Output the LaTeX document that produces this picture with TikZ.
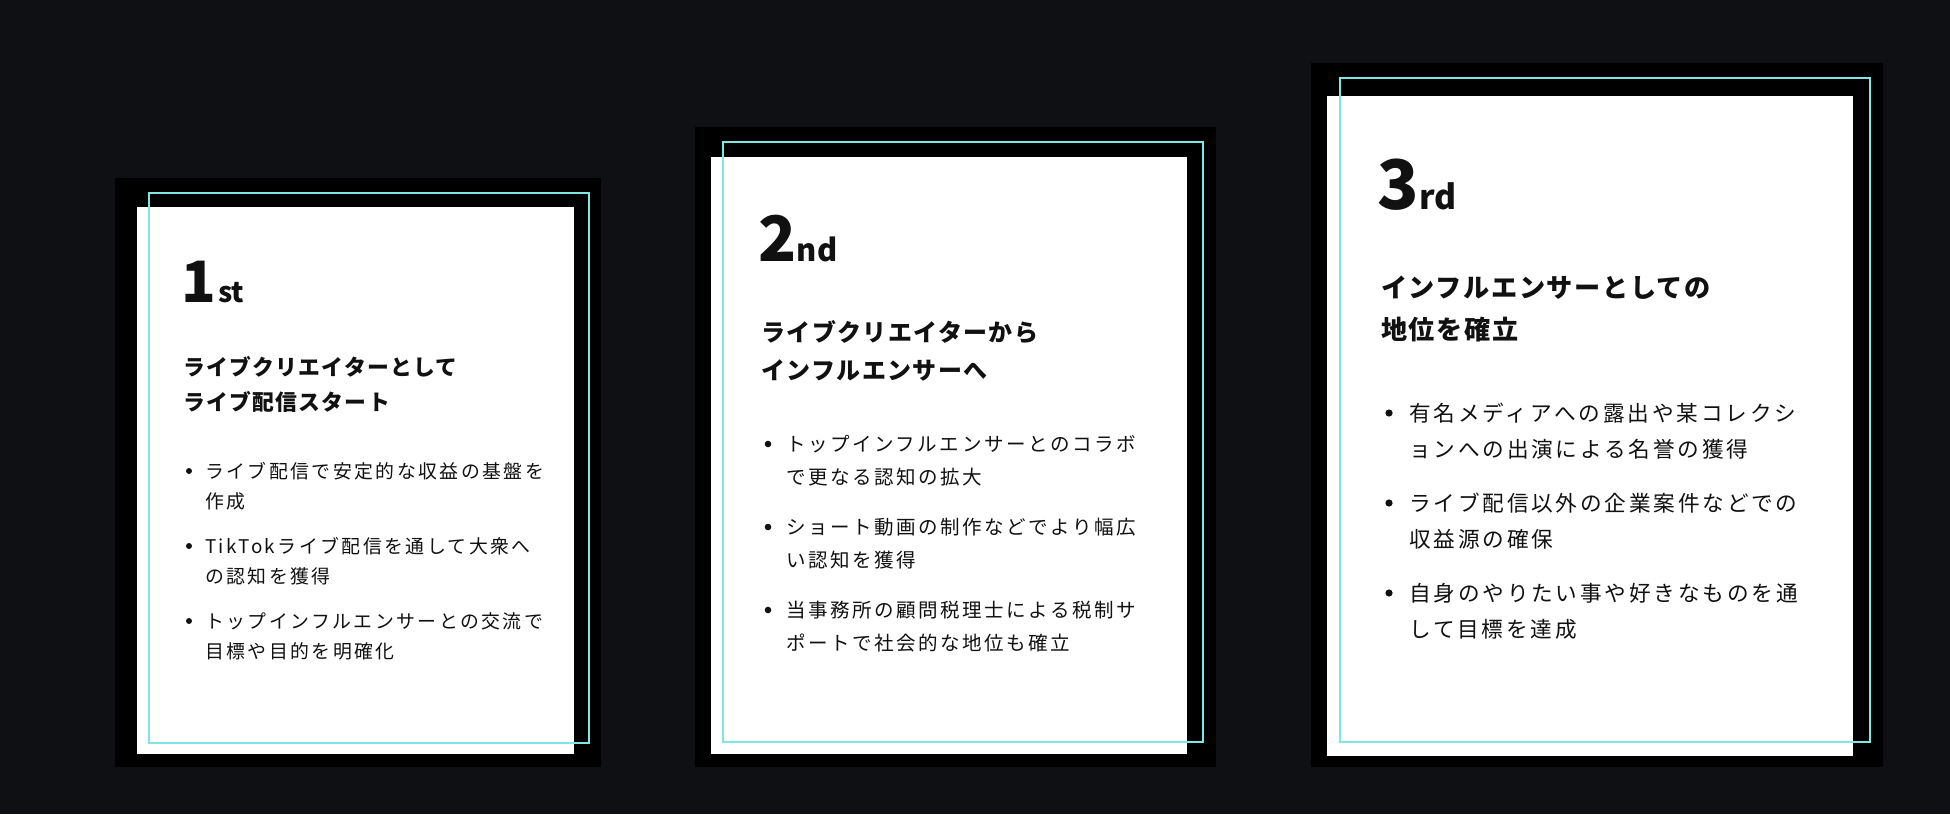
\documentclass[tikz,border=0pt]{standalone}
\usepackage{fontspec}
\setmainfont{Noto Sans CJK JP}
\usetikzlibrary{positioning}

\definecolor{bgdark}{HTML}{0F1013}
\definecolor{aqua}{HTML}{80E6E3}
\definecolor{ink}{HTML}{111111}

\begin{document}
\begin{tikzpicture}[
    x=1pt, y=-1pt,
    every node/.style={text=ink, inner sep=0pt},
    frame/.style={fill=black},
    paper/.style={fill=white},
    outline/.style={draw=aqua, line width=2pt},
    rankno/.style={
        anchor=base west,
        font=\pgfmathsetmacro\fsz{57*#1}\fontsize{\fsz}{\fsz}\selectfont\bfseries
    },
    ranksuf/.style={
        font=\pgfmathsetmacro\fsz{28*#1}\fontsize{\fsz}{\fsz}\selectfont\bfseries
    },
    heading/.style={
        anchor=west,
        align=left,
        font=\pgfmathsetmacro\fsz{21.8*#1}\pgfmathsetmacro\bsz{35*#1}\fontsize{\fsz}{\bsz}\selectfont\bfseries\addfontfeatures{LetterSpace=6}
    },
    % #1 = text size factor, #2 = line pitch factor
    point/.style 2 args={
        anchor=west,
        align=left,
        font=\pgfmathsetmacro\fsz{18.5*#1}\pgfmathsetmacro\bsz{30*#2}\fontsize{\fsz}{\bsz}\selectfont\addfontfeatures{LetterSpace=13}
    },
    bulletdot/.style={circle, fill=ink, minimum size={6pt*#1}}
]

% --- canvas ---
\fill[bgdark] (0,0) rectangle (1950,814);
\useasboundingbox (0,0) rectangle (1950,814);

% --- card 1 ---
\fill[frame] (115,178) rectangle (601,767);
\fill[paper] (137,207) rectangle (574,754);
\draw[outline] (149,193) rectangle (589,743);

\node (no1) [rankno=1] at (181,302) {1};
\node (no1s) [ranksuf=1, right=2pt of no1.base east, anchor=base west] {st};
\node (head1) [heading=1] at (183,384) {ライブクリエイターとして\\ライブ配信スタート};

\node (d11) [bulletdot=1] at (189,471) {};
\node (p11) [point={1.02}{1}] at (205,486) {ライブ配信で安定的な収益の基盤を\\作成};
\node (d12) [bulletdot=1] at (189,546) {};
\node (p12) [point={1.02}{1}] at (205,561) {TikTokライブ配信を通して大衆へ\\の認知を獲得};
\node (d13) [bulletdot=1] at (189,621) {};
\node (p13) [point={1.02}{1}] at (205,636) {トップインフルエンサーとの交流で\\目標や目的を明確化};

% --- card 2 ---
\fill[frame] (695,127) rectangle (1216,767);
\fill[paper] (711,157) rectangle (1187,754);
\draw[outline] (723,142) rectangle (1203,742);

\node (no2) [rankno=1.1] at (758,261) {2};
\node (no2s) [ranksuf=1.1, right=0pt of no2.base east, anchor=base west] {nd};
\node (head2) [heading=1.1] at (761,351) {ライブクリエイターから\\インフルエンサーへ};

\node (d21) [bulletdot=1.1] at (768,444) {};
\node (p21) [point={1.055}{1.1}] at (786,460.5) {トップインフルエンサーとのコラボ\\で更なる認知の拡大};
\node (d22) [bulletdot=1.1] at (768,527) {};
\node (p22) [point={1.055}{1.1}] at (786,543.5) {ショート動画の制作などでより幅広\\い認知を獲得};
\node (d23) [bulletdot=1.1] at (768,610) {};
\node (p23) [point={1.055}{1.1}] at (786,626.5) {当事務所の顧問税理士による税制サ\\ポートで社会的な地位も確立};

% --- card 3 ---
\fill[frame] (1311,63) rectangle (1883,767);
\fill[paper] (1327,96) rectangle (1853,756);
\draw[outline] (1340,78) rectangle (1870,742);

\node (no3) [rankno=1.2] at (1377,209) {3};
\node (no3s) [ranksuf=1.2, right=0pt of no3.base east, anchor=base west] {rd};
\node (head3) [heading=1.2] at (1381,309) {インフルエンサーとしての\\地位を確立};

\node (d31) [bulletdot=1.2] at (1389,413) {};
\node (p31) [point={1.17}{1.2}] at (1409,431) {有名メディアへの露出や某コレクシ\\ョンへの出演による名誉の獲得};
\node (d32) [bulletdot=1.2] at (1389,503) {};
\node (p32) [point={1.17}{1.2}] at (1409,521) {ライブ配信以外の企業案件などでの\\収益源の確保};
\node (d33) [bulletdot=1.2] at (1389,593) {};
\node (p33) [point={1.17}{1.2}] at (1409,611) {自身のやりたい事や好きなものを通\\して目標を達成};

\end{tikzpicture}
\end{document}
